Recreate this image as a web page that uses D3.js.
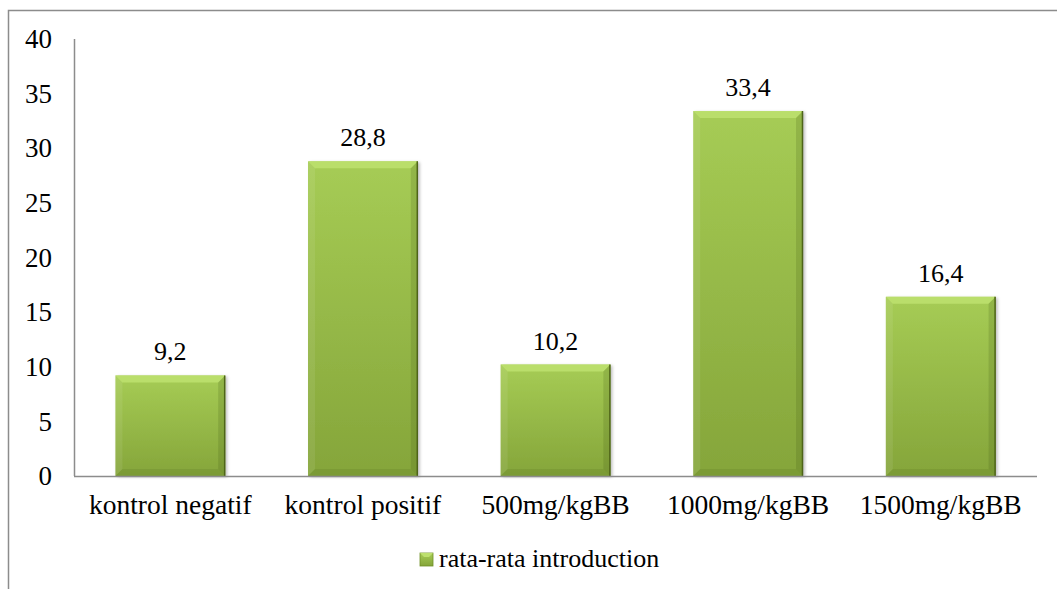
<!DOCTYPE html>
<html>
<head>
<meta charset="utf-8">
<script src="https://cdn.jsdelivr.net/npm/d3@7"></script>
<style>
  html, body { margin: 0; padding: 0; background: #fff; }
</style>
</head>
<body>
<div id="chart"></div>
<script>
// --- data ---
const categories = ["kontrol negatif", "kontrol positif", "500mg/kgBB", "1000mg/kgBB", "1500mg/kgBB"];
const values = [9.2, 28.8, 10.2, 33.4, 16.4];
const valueLabels = ["9,2", "28,8", "10,2", "33,4", "16,4"];
const yTicks = [0, 5, 10, 15, 20, 25, 30, 35, 40];
const seriesName = "rata-rata introduction";

// --- dimensions ---
const width = 1057, height = 589;
const margin = { top: 39, right: 20, bottom: 113, left: 74 };
const innerW = 1037 - margin.left;
const innerH = 476 - margin.top;
const serif = "'Liberation Serif'";

const svg = d3.select("#chart").append("svg")
  .attr("width", width).attr("height", height);

// outer chart border (only left/top visible)
svg.append("path")
  .attr("d", `M8.5,${height} V10.5 H${width}`)
  .attr("fill", "none").attr("stroke", "#8c8c8c").attr("stroke-width", 1.5);

const defs = svg.append("defs");
const grad = defs.append("linearGradient").attr("id", "barGrad")
  .attr("x1", 0).attr("x2", 0).attr("y1", 0).attr("y2", 1);
grad.append("stop").attr("offset", "0%").attr("stop-color", "#a6cc55");
grad.append("stop").attr("offset", "100%").attr("stop-color", "#85a53a");

const shadow = defs.append("filter").attr("id", "shadow")
  .attr("x", "-10%").attr("y", "-10%").attr("width", "130%").attr("height", "130%");
shadow.append("feDropShadow").attr("dx", 2).attr("dy", 1).attr("stdDeviation", 1.5)
  .attr("flood-color", "#000").attr("flood-opacity", 0.25);

const g = svg.append("g").attr("transform", `translate(${margin.left},${margin.top})`);

const x = d3.scaleBand().domain(categories).range([0, innerW]).paddingInner(0.43).paddingOuter(0.215);
const y = d3.scaleLinear().domain([0, 40]).range([innerH, 0]);

// y axis labels
const yAxis = g.append("g")
  .call(d3.axisLeft(y).tickValues(yTicks).tickSize(0).tickPadding(22).tickFormat(d3.format("d")));
yAxis.select(".domain").remove();
yAxis.selectAll("text")
  .style("font-family", serif)
  .style("font-size", "27px").style("fill", "#000");

// bars
const bev = 7;
const bars = g.selectAll(".bar").data(categories).join("g").attr("class", "bar");
bars.each(function (c, i) {
  const b = d3.select(this);
  const x0 = x(c), w = x.bandwidth();
  const y0 = y(values[i]), h = innerH - y0;
  const x1 = x0 + w, y1 = y0 + h;
  b.append("rect").attr("x", x0).attr("y", y0).attr("width", w).attr("height", h)
    .attr("fill", "url(#barGrad)").attr("filter", "url(#shadow)");
  // top bevel
  b.append("polygon")
    .attr("points", `${x0},${y0} ${x1},${y0} ${x1 - bev},${y0 + bev} ${x0 + bev},${y0 + bev}`)
    .attr("fill", "#bde06e").attr("opacity", 0.9);
  // left bevel
  b.append("polygon")
    .attr("points", `${x0},${y0} ${x0 + bev},${y0 + bev} ${x0 + bev},${y1 - bev} ${x0},${y1}`)
    .attr("fill", "#ffffff").attr("opacity", 0.08);
  // right bevel
  b.append("polygon")
    .attr("points", `${x1},${y0} ${x1 - bev},${y0 + bev} ${x1 - bev},${y1 - bev} ${x1},${y1}`)
    .attr("fill", "#3d5210").attr("opacity", 0.18);
  // bottom bevel
  b.append("polygon")
    .attr("points", `${x0},${y1} ${x0 + bev},${y1 - bev} ${x1 - bev},${y1 - bev} ${x1},${y1}`)
    .attr("fill", "#3d5210").attr("opacity", 0.12);
  b.append("line").attr("x1", x1 - 0.5).attr("x2", x1 - 0.5).attr("y1", y0).attr("y2", y1)
    .attr("stroke", "#4e6419").attr("stroke-width", 1.5);
  // value label
  b.append("text")
    .attr("x", x0 + w / 2).attr("y", y0 - 15)
    .attr("text-anchor", "middle")
    .style("font-family", serif)
    .style("font-size", "26px").style("fill", "#000")
    .text(valueLabels[i]);
});

// axes lines
g.append("line").attr("x1", 0.5).attr("x2", 0.5).attr("y1", 0).attr("y2", innerH)
  .attr("stroke", "#8c8c8c").attr("stroke-width", 1.5);
g.append("line").attr("x1", 0).attr("x2", innerW).attr("y1", innerH + 0.5).attr("y2", innerH + 0.5)
  .attr("stroke", "#8c8c8c").attr("stroke-width", 1.5);

// x axis labels
const xAxis = g.append("g").attr("transform", `translate(0,${innerH})`)
  .call(d3.axisBottom(x).tickSize(0).tickPadding(18));
xAxis.select(".domain").remove();
xAxis.selectAll("text")
  .style("font-family", serif)
  .style("font-size", "27.5px").style("fill", "#000");

// legend
const legend = svg.append("g").attr("transform", "translate(420,553)");
legend.append("rect").attr("width", 13).attr("height", 13).attr("fill", "url(#barGrad)")
  .attr("stroke", "#6f8f27").attr("stroke-width", 0.8);
legend.append("polygon").attr("points", "0,0 13,0 9,4 4,4").attr("fill", "#bde06e");
legend.append("text").attr("x", 19).attr("y", 14)
  .style("font-family", serif)
  .style("font-size", "26px").style("fill", "#000")
  .text(seriesName);
</script>
</body>
</html>
